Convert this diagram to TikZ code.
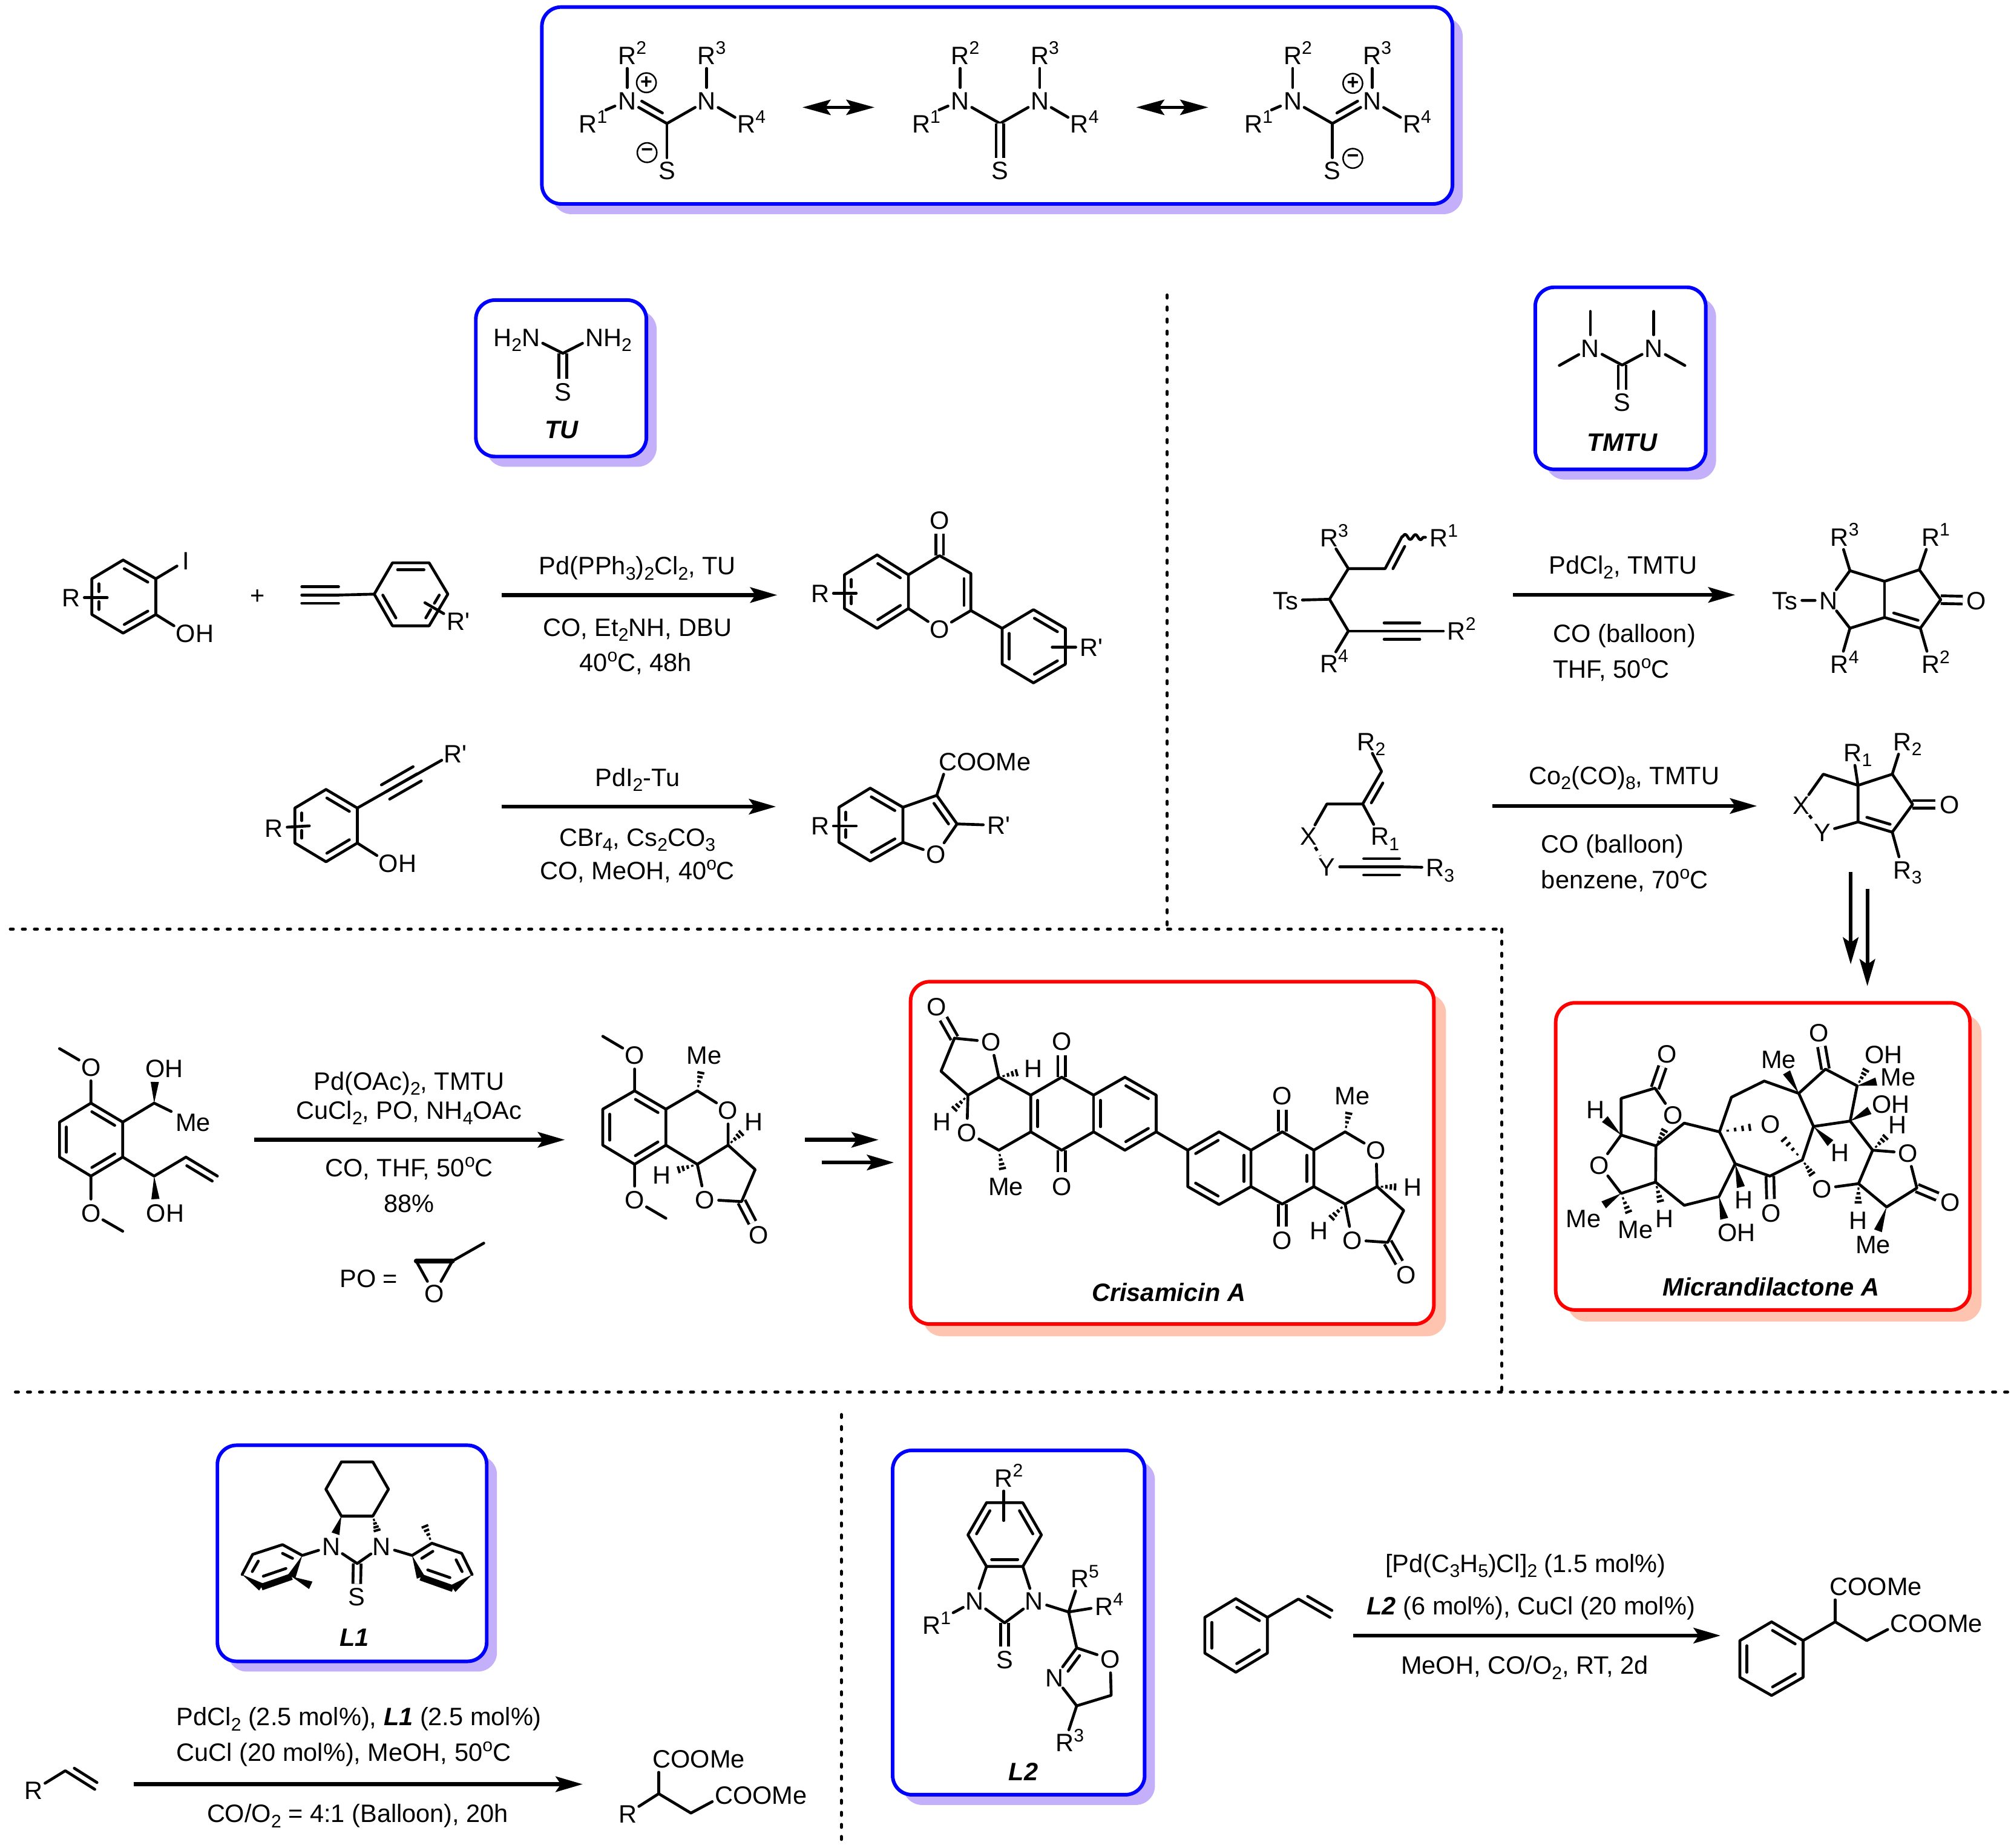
\documentclass[tikz,border=0pt]{standalone}
\usepackage{xcolor}
\usepackage{fontspec}
\setmainfont{Liberation Sans}
\usepackage{tikz}
\usetikzlibrary{calc}
\usetikzlibrary{arrows.meta}
\usetikzlibrary{decorations.pathmorphing}
\definecolor{blueshade}{HTML}{C4B0FA}
\definecolor{redshade}{HTML}{FFC4B0}
\newcommand{\fsz}{\fontsize{9.8}{12}\selectfont}
\newcommand{\sps}[1]{\raisebox{3.8pt}[0pt][0pt]{\fontsize{7.1}{8}\selectfont #1}}
\newcommand{\sbs}[1]{\raisebox{-2pt}[0pt][0pt]{\fontsize{7.1}{8}\selectfont #1}}
\newcommand{\Rs}[1]{R\rlap{\sps{#1}}}
\newcommand{\Rb}[1]{R\rlap{\sbs{#1}}}
\newcommand{\Rp}{R\rlap{\textquotesingle}}
\tikzstyle{atom} = [circle, inner sep=0pt, text height=7.05pt, text depth=0pt, font=\fsz]
\tikzstyle{atomr} = [rectangle, inner sep=1.5pt, text height=7.05pt, text depth=0pt, font=\fsz]
\tikzstyle{txt} = [rectangle, inner sep=0pt, text height=7.05pt, text depth=0pt, font=\fsz]
\tikzstyle{tag} = [txt, font=\fsz\bfseries\itshape]
\tikzstyle{charge} = [circle, draw, line width=.6pt, minimum size=7.6pt, inner sep=0pt, font=\fontsize{8}{8}\selectfont\bfseries]
\tikzstyle{bond} = [line width=1.1pt, line cap=round, line join=round]
\tikzstyle{dbond} = [line width=1.1pt, double, double distance=1.9pt]
\tikzstyle{rxn} = [-{Stealth[length=10.5pt, width=6pt, inset=2pt]}, line width=1.5pt]
\tikzstyle{res} = [{Stealth[length=11pt, width=6pt, inset=2pt]}-{Stealth[length=11pt, width=6pt, inset=2pt]}, line width=1.1pt]
\tikzstyle{sepline} = [line width=1.15pt, line cap=round, dash pattern=on 1.2pt off 3.5pt]
\newcommand{\inrf}[4]{\draw [bond] ($(#1)!#3!(#2)!2.7pt!-90:(#2)$) to ($(#1)!#4!(#2)!2.7pt!-90:(#2)$);}
\newcommand{\inr}[2]{\inrf{#1}{#2}{.14}{.86}}
\newcommand{\trp}[2]{\draw [bond] (#1) to (#2);
  \draw [bond] ($(#1)!3.2pt!90:(#2)$) to ($(#2)!3.2pt!-90:(#1)$);
  \draw [bond] ($(#1)!3.2pt!-90:(#2)$) to ($(#2)!3.2pt!90:(#1)$);}
\newcommand{\wdg}[2]{\path (#1) -- (#2) coordinate [pos=0] (ws) coordinate [pos=1] (we);
  \fill (ws) -- ($(we)!1.6pt!90:(ws)$) -- ($(we)!1.6pt!-90:(ws)$) -- cycle;}
\newcommand{\hsh}[2]{\path (#1) -- (#2) coordinate [pos=0] (ws) coordinate [pos=1] (we);
  \foreach \hf in {.22,.42,.62,.81,1} {\draw [line width=.95pt] ($(ws)!\hf!(we)!\hf*1.7pt!90:(we)$) to ($(ws)!\hf!(we)!\hf*1.7pt!-90:(we)$);}}
\newcommand{\panel}[4][8]{\fill [#2shade, rounded corners=7.5pt, shift={(#1, #1)}] #3 rectangle #4;
  \draw [#2, line width=1.4pt, fill=white, rounded corners=7.5pt] #3 rectangle #4;}
\newcommand{\ureacore}{%
  \node [atom] (n1) at (489, 78.6) {N};
  \node [atom] (n2) at (551, 78.6) {N};
  \coordinate (c) at (520, 96.3);
  \node [atom] (s) at (520, 133) {S};
  \node [atom] (r1) at (458.5, 96.7) {\Rs{1}};
  \node [atom] (r2) at (489, 43) {\Rs{2}};
  \node [atom] (r3) at (551, 43) {\Rs{3}};
  \node [atom] (r4) at (582, 96.7) {\Rs{4}};
  \coordinate (r1b) at (472.5, 85.7);
  \draw [bond] (n1) to (r2);
  \draw [bond] (n2) to (r3);
  \draw [bond] (n1) to (r1b);
  \draw [bond] (n2) to (r4);
  \draw [bond] (n1) to (c);
  \draw [bond] (n2) to (c);}

\begin{document}
\begin{tikzpicture}[x=.5pt, y=-.5pt]
\path [fill=white, use as bounding box] (0, 0) rectangle (1568, 1440.6);

\panel{blue}{(422.5, 5.5)}{(1132.5, 159)}
\panel{blue}{(371, 234)}{(504, 356)}
\panel{blue}{(1197, 224)}{(1330, 366)}
\panel[9.5]{red}{(710, 765.5)}{(1118, 1032.5)}
\panel[9]{red}{(1213, 782)}{(1536, 1021.5)}
\panel{blue}{(169.5, 1127)}{(379.5, 1295.5)}
\panel{blue}{(696, 1131)}{(892.5, 1399.5)}

\draw [sepline] (910, 230) to (910, 722);
\draw [sepline] (8, 724.5) to (1171, 724.5);
\draw [sepline] (1171, 724.5) to (1171, 1085.5);
\draw [sepline] (12, 1085.5) to (1566, 1085.5);
\draw [sepline] (656, 1103) to (656, 1440);

\begin{scope}[name prefix=ra-]
\ureacore
\draw [bond] (c) to (s);
\inrf{c}{n1}{.2}{.72}
\node [charge] (plus) at (504, 64.5) {+};
\node [charge] (minus) at (504.5, 119) {−};
\end{scope}
\begin{scope}[shift={(259.7, 0)}, name prefix=rb-]
\ureacore
\draw [dbond] (c) to (s);
\end{scope}
\begin{scope}[shift={(518.9, 0)}, name prefix=rc-]
\ureacore
\draw [bond] (c) to (s);
\inrf{n2}{c}{.28}{.8}
\node [charge] (plus) at (535.9, 65) {+};
\node [charge] (minus) at (535.9, 123.5) {−};
\end{scope}
\coordinate (rs1) at (625.7, 83.7);
\coordinate (re1) at (681.8, 83.7);
\coordinate (rs2) at (885.9, 83.7);
\coordinate (re2) at (942.1, 83.7);
\draw [res] (rs1) to (re1);
\draw [res] (rs2) to (re2);

\begin{scope}[name prefix=tu-]
\coordinate (c) at (438.9, 275.5);
\node [atom] (n1) at (413.9, 263) {\llap{H\sbs{2}}N};
\node [atom] (n2) at (463.4, 263) {N\rlap{H\sbs{2}}};
\node [atom] (s) at (438.9, 305.5) {S};
\draw [dbond] (c) to (s);
\draw [bond] (n1) to (c) to (n2);
\node [tag] (name) at (438, 335) {TU};
\end{scope}

\begin{scope}[name prefix=tm-]
\coordinate (c) at (1264.8, 284.7);
\node [atom] (n1) at (1240, 271.4) {N};
\node [atom] (n2) at (1289.4, 271.4) {N};
\node [atom] (s) at (1264.8, 313.8) {S};
\coordinate (m1) at (1240, 242.8);
\coordinate (m2) at (1289.4, 242.8);
\coordinate (m3) at (1215.8, 285);
\coordinate (m4) at (1313.7, 285);
\draw [dbond] (c) to (s);
\draw [bond] (n1) to (c) to (n2);
\draw [bond] (n1) to (m1);
\draw [bond] (n2) to (m2);
\draw [bond] (n1) to (m3);
\draw [bond] (n2) to (m4);
\node [tag] (name) at (1264.8, 344.8) {TMTU};
\end{scope}

\begin{scope}[name prefix=ph-]
\coordinate (a) at (96, 436.7);
\coordinate (b) at (121.5, 451.3);
\coordinate (c) at (121.5, 479.2);
\coordinate (d) at (96, 493.7);
\coordinate (e) at (71.6, 479.2);
\coordinate (f) at (71.6, 451.3);
\node [atom] (i) at (144.8, 437.3) {I};
\node [atom] (o) at (144.8, 493.7) {O\rlap{H}};
\node [atom] (r) at (55.4, 466) {R};
\coordinate (rb) at (83.6, 466);
\draw [bond] (a) to (b) to (c) to (d) to (e) to (f) to (a);
\draw [bond] (b) to (i);
\draw [bond] (c) to (o);
\draw [bond] (r) to (rb);
\inr{a}{b}
\inr{c}{d}
\inrf{e}{f}{.14}{.36}
\inrf{e}{f}{.64}{.86}
\end{scope}
\node [txt] (plus) at (201, 464) {+};

\begin{scope}[name prefix=pa-]
\coordinate (t1) at (235.3, 464);
\coordinate (t2) at (264, 464);
\coordinate (a) at (291.8, 463.3);
\coordinate (b) at (306, 438.9);
\coordinate (c) at (334.6, 438.9);
\coordinate (d) at (349.2, 463.3);
\coordinate (e) at (334.6, 488);
\coordinate (f) at (306, 488);
\coordinate (bar1) at (331.3, 470);
\coordinate (bar2) at (346, 478.5);
\node [atom] (r) at (355.5, 484.5) {\Rp};
\trp{t1}{t2}
\draw [bond] (t2) to (a);
\draw [bond] (a) to (b) to (c) to (d) to (e) to (f) to (a);
\draw [bond] (bar1) to (bar2);
\inr{b}{c}
\inrf{d}{e}{.14}{.4}
\inrf{d}{e}{.6}{.86}
\inr{f}{a}
\end{scope}

\coordinate (a1s) at (391, 464);
\coordinate (a1e) at (606, 464);
\draw [rxn] (a1s) to (a1e);
\node [txt] (t1a) at (497, 441) {Pd(PPh\sbs{3})\sbs{2}Cl\sbs{2}, TU};
\node [txt] (t1b) at (497, 489) {CO, Et\sbs{2}NH, DBU};
\node [txt] (t1c) at (495.5, 516.5) {40\sps{o}C, 48h};

\begin{scope}[name prefix=fl-]
\coordinate (a) at (683.9, 432.7);
\coordinate (b) at (708.3, 448.2);
\coordinate (c) at (708.3, 474.5);
\coordinate (d) at (683.9, 490);
\coordinate (e) at (658.4, 474.5);
\coordinate (f) at (658.4, 448.2);
\coordinate (g) at (732.6, 433.3);
\coordinate (h) at (757, 447.2);
\coordinate (i) at (757, 476.1);
\node [atom] (o) at (732.6, 490.6) {O};
\node [atom] (ok) at (732.6, 405.4) {O};
\coordinate (p1) at (781.4, 490);
\coordinate (p2) at (805.8, 475.4);
\coordinate (p3) at (830.7, 490);
\coordinate (p4) at (830.7, 517.9);
\coordinate (p5) at (805.8, 532.5);
\coordinate (p6) at (781.4, 517.9);
\node [atom] (r) at (639.5, 462.7) {R};
\coordinate (rb) at (667.6, 462.7);
\node [atom] (r2) at (849.1, 504.6) {\Rp};
\coordinate (r2b) at (820.4, 504.6);
\draw [dbond] (g) to (ok);
\draw [bond] (a) to (b) to (c) to (d) to (e) to (f) to (a);
\draw [bond] (b) to (g) to (h) to (i) to (o) to (c);
\draw [bond] (i) to (p1) to (p2) to (p3) to (p4) to (p5) to (p6) to (p1);
\draw [bond] (r) to (rb);
\draw [bond] (r2) to (r2b);
\inr{a}{b}
\inr{c}{d}
\inrf{e}{f}{.14}{.36}
\inrf{e}{f}{.64}{.86}
\inr{h}{i}
\inr{p2}{p3}
\inr{p4}{p5}
\inr{p6}{p1}
\end{scope}

\begin{scope}[name prefix=sp-]
\coordinate (a) at (254.2, 615.6);
\coordinate (b) at (278.6, 630.1);
\coordinate (c) at (278.6, 657.4);
\coordinate (d) at (254.2, 672);
\coordinate (e) at (229.9, 657.4);
\coordinate (f) at (229.9, 630.1);
\node [atom] (o) at (303, 672.9) {O\rlap{H}};
\node [atom] (r) at (213.6, 645.6) {R};
\coordinate (rb) at (241.2, 644);
\node [atom] (r2) at (353.4, 587.7) {\Rp};
\coordinate (t1) at (300.6, 617.6);
\coordinate (t2) at (325.3, 603.4);
\trp{t1}{t2}
\draw [bond] (b) to (r2);
\draw [bond] (a) to (b) to (c) to (d) to (e) to (f) to (a);
\draw [bond] (c) to (o);
\draw [bond] (r) to (rb);
\inr{a}{b}
\inr{c}{d}
\inrf{e}{f}{.14}{.36}
\inrf{e}{f}{.64}{.86}
\end{scope}

\coordinate (a2s) at (391, 629);
\coordinate (a2e) at (605, 629);
\draw [rxn] (a2s) to (a2e);
\node [txt] (t2a) at (497, 606) {PdI\sbs{2}-Tu};
\node [txt] (t2b) at (497, 652.7) {CBr\sbs{4}, Cs\sbs{2}CO\sbs{3}};
\node [txt] (t2c) at (497, 679) {CO, MeOH, 40\sps{o}C};

\begin{scope}[name prefix=bf-]
\coordinate (a) at (678.5, 614.6);
\coordinate (b) at (704, 629.5);
\coordinate (c) at (704, 656.8);
\coordinate (d) at (678.5, 671.4);
\coordinate (e) at (654.1, 656.8);
\coordinate (f) at (654.1, 629.5);
\coordinate (g) at (730.4, 620.2);
\coordinate (h) at (746.2, 642.5);
\node [atom] (o) at (730, 666.1) {O};
\node [atom] (cm) at (739, 593.9) {C\rlap{OOMe}};
\node [atom] (r2) at (777, 643.5) {\Rp};
\node [atom] (r) at (639.5, 644.1) {R};
\coordinate (rb) at (667.6, 644.1);
\draw [bond] (a) to (b) to (c) to (d) to (e) to (f) to (a);
\draw [bond] (b) to (g) to (h) to (o) to (c);
\draw [bond] (g) to (cm);
\draw [bond] (h) to (r2);
\draw [bond] (r) to (rb);
\inr{a}{b}
\inr{c}{d}
\inrf{e}{f}{.14}{.36}
\inrf{e}{f}{.64}{.86}
\inr{g}{h}
\end{scope}

\begin{scope}[name prefix=en-]
\node [atom] (r3) at (1036.2, 419.2) {\Rs{3}};
\coordinate (a) at (1051.3, 443.4);
\coordinate (b) at (1080, 443.4);
\coordinate (v) at (1093.1, 418.6);
\node [atom] (r1) at (1121.8, 419.2) {\Rs{1}};
\node [atomr] (ts) at (1002.3, 468.2) {Ts};
\coordinate (c) at (1036.6, 467.3);
\coordinate (d) at (1051.3, 492.1);
\node [atom] (r4) at (1036.2, 517.2) {\Rs{4}};
\node [atom] (r2) at (1135.7, 492.1) {\Rs{2}};
\coordinate (t1) at (1079.2, 492.1);
\coordinate (t2) at (1107, 492.1);
\trp{t1}{t2}
\draw [bond] (r3) to (a) to (b) to (v);
\draw [bond] (ts) to (c);
\draw [bond] (a) to (c) to (d) to (r4);
\draw [bond] (d) to (t1);
\draw [bond] (t2) to (r2);
\draw [bond, decorate, decoration={snake, segment length=4pt, amplitude=1pt}] (v) to (r1);
\inrf{b}{v}{.1}{.8}
\end{scope}

\coordinate (a3s) at (1179.5, 463.9);
\coordinate (a3e) at (1353, 463.9);
\draw [rxn] (a3s) to (a3e);
\node [txt] (t3a) at (1265.5, 440.3) {PdCl\sbs{2}, TMTU};
\node [txt, anchor=west] (t3b) at (1210.6, 494) {CO (balloon)};
\node [txt, anchor=west] (t3c) at (1210.6, 521.8) {THF, 50\sps{o}C};

\begin{scope}[name prefix=pr-]
\node [atom] (n) at (1425.6, 468.2) {N};
\node [atomr] (ts) at (1391.8, 468.2) {Ts};
\coordinate (a) at (1442.4, 445);
\coordinate (j1) at (1469.4, 453.3);
\coordinate (b) at (1496.5, 444.3);
\coordinate (k) at (1513.2, 467.6);
\node [atom] (o) at (1541.1, 468.2) {O};
\coordinate (c) at (1497.3, 489.9);
\coordinate (j2) at (1469.4, 481.5);
\coordinate (d) at (1442.4, 489.9);
\node [atom] (r3) at (1434.4, 418.6) {\Rs{3}};
\node [atom] (r1) at (1505.3, 418.6) {\Rs{1}};
\node [atom] (r4) at (1434.4, 517.8) {\Rs{4}};
\node [atom] (r2) at (1505.3, 517.8) {\Rs{2}};
\draw [dbond] (k) to (o);
\draw [bond] (ts) to (n) to (a) to (j1) to (b) to (k) to (c) to (j2) to (d) to (n);
\draw [bond] (j1) to (j2);
\draw [bond] (a) to (r3);
\draw [bond] (b) to (r1);
\draw [bond] (d) to (r4);
\draw [bond] (c) to (r2);
\inrf{c}{j2}{.12}{.8}
\end{scope}

\begin{scope}[name prefix=pk-]
\node [atom] (r2) at (1065.3, 578.2) {\Rb{2}};
\coordinate (a) at (1077.2, 601.5);
\coordinate (b) at (1062.5, 626.9);
\coordinate (c) at (1034.6, 626.9);
\node [atom] (x) at (1020.3, 652) {X};
\node [atom] (y) at (1034.6, 675.9) {Y};
\node [atom] (r1) at (1076, 652) {\Rb{1}};
\node [atom] (r3) at (1119, 676.5) {\Rb{3}};
\coordinate (t1) at (1063.3, 675.9);
\coordinate (t2) at (1091.2, 675.9);
\trp{t1}{t2}
\draw [bond] (r2) to (a) to (b) to (c) to (x);
\draw [bond] (b) to (r1);
\draw [bond, dash pattern=on 1.6pt off 2.2pt, line cap=butt] (x) to (y);
\draw [bond] (y) to (t1);
\draw [bond] (t2) to (r3);
\inrf{b}{a}{.14}{.75}
\end{scope}

\coordinate (a4s) at (1163.6, 628.5);
\coordinate (a4e) at (1369.9, 628.5);
\draw [rxn] (a4s) to (a4e);
\node [txt] (t4a) at (1266.4, 604.6) {Co\sbs{2}(CO)\sbs{8}, TMTU};
\node [txt, anchor=west] (t4b) at (1201.4, 658.2) {CO (balloon)};
\node [txt, anchor=west] (t4c) at (1201.4, 686.1) {benzene, 70\sps{o}C};

\begin{scope}[name prefix=pp-]
\coordinate (q) at (1448.7, 612.4);
\coordinate (a) at (1421.6, 603.7);
\node [atom] (x) at (1404.5, 627.8) {X};
\node [atom] (y) at (1420.8, 648.9) {Y};
\coordinate (b) at (1448.7, 640.9);
\coordinate (c) at (1475.4, 648.9);
\coordinate (k) at (1491.3, 627.2);
\node [atom] (o) at (1520, 627.2) {O};
\coordinate (d) at (1475.4, 603.7);
\node [atom] (r1) at (1444.7, 586.6) {\Rb{1}};
\node [atom] (r2) at (1483.4, 578.2) {\Rb{2}};
\node [atom] (r3) at (1483.4, 678.1) {\Rb{3}};
\draw [dbond] (k) to (o);
\draw [bond] (x) to (a) to (q) to (d) to (k) to (c) to (b) to (q);
\draw [bond, dash pattern=on 1.6pt off 2.2pt, line cap=butt] (x) to (y);
\draw [bond] (y) to (b);
\draw [bond] (q) to (r1);
\draw [bond] (d) to (r2);
\draw [bond] (c) to (r3);
\inrf{c}{b}{.12}{.8}
\end{scope}

\coordinate (a5s) at (1443, 680);
\coordinate (a5e) at (1443, 752);
\coordinate (a6s) at (1456, 693);
\coordinate (a6e) at (1456, 769);
\draw [rxn] (a5s) to (a5e);
\draw [rxn] (a6s) to (a6e);

\begin{scope}[name prefix=dm-]
\coordinate (a) at (70.9, 860.2);
\coordinate (b) at (95.7, 875);
\coordinate (c) at (95.7, 902.3);
\coordinate (d) at (70.9, 917.1);
\coordinate (e) at (46.4, 902.3);
\coordinate (f) at (46.4, 875);
\node [atom] (o1) at (70.9, 832) {O};
\coordinate (m1) at (46.4, 817.7);
\node [atom] (o2) at (70.9, 945.8) {O};
\coordinate (m2) at (95.7, 960.1);
\coordinate (g) at (120.2, 860.2);
\node [atom] (o3) at (121, 832.9) {O\rlap{H}};
\node [atomr] (me) at (150.5, 875) {Me};
\coordinate (h) at (120.2, 917.1);
\coordinate (v1) at (145, 902.3);
\coordinate (v2) at (169.5, 917.1);
\node [atom] (o4) at (121.8, 945.8) {O\rlap{H}};
\draw [bond] (a) to (b) to (c) to (d) to (e) to (f) to (a);
\draw [bond] (a) to (o1) to (m1);
\draw [bond] (d) to (o2) to (m2);
\draw [bond] (b) to (g) to (me);
\draw [bond] (c) to (h) to (v1) to (v2);
\wdg{g}{o3}
\wdg{h}{o4}
\inr{a}{b}
\inr{c}{d}
\inr{e}{f}
\inrf{v1}{v2}{.14}{.95}
\end{scope}

\coordinate (a7s) at (198.1, 888.8);
\coordinate (a7e) at (440.4, 888.8);
\draw [rxn] (a7s) to (a7e);
\node [txt] (t7a) at (319, 843) {Pd(OAc)\sbs{2}, TMTU};
\node [txt] (t7b) at (319, 865.7) {CuCl\sbs{2}, PO, NH\sbs{4}OAc};
\node [txt] (t7c) at (319, 910.7) {CO, THF, 50\sps{o}C};
\node [txt] (t7d) at (319, 938.2) {88\%};
\node [txt] (po) at (287.5, 997) {PO =};

\begin{scope}[name prefix=ep-]
\coordinate (a) at (324.5, 983.3);
\coordinate (b) at (352.8, 983.3);
\node [atom] (o) at (338.5, 1008.6) {O};
\coordinate (m) at (377.2, 969.4);
\draw [bond, line width=1.8pt] (a) to (b);
\draw [bond] (a) to (o) to (b) to (m);
\end{scope}

\begin{scope}[name prefix=dp-]
\coordinate (a) at (494.8, 850.6);
\coordinate (b) at (519.2, 864.9);
\coordinate (c) at (519.2, 893);
\coordinate (d) at (494.8, 907.9);
\coordinate (e) at (470, 893);
\coordinate (f) at (470, 864.9);
\node [atom] (o1) at (494.8, 822.8) {O};
\coordinate (m1) at (470, 808.1);
\node [atom] (o2) at (494.8, 935.7) {O};
\coordinate (m2) at (519.2, 950);
\coordinate (g) at (543.7, 850.6);
\node [atomr] (me) at (549.1, 822.8) {Me};
\node [atom] (o3) at (567.7, 865.7) {O};
\coordinate (h) at (567.7, 893);
\node [atom] (h1) at (587.9, 874.5) {H};
\coordinate (i) at (543.7, 907.9);
\node [atom] (h2) at (515.9, 916) {H};
\node [atom] (o4) at (549.6, 935.3) {O};
\coordinate (j) at (588.8, 912);
\coordinate (k) at (578.2, 937);
\node [atom] (o5) at (591.7, 963) {O};
\draw [dbond] (k) to (o5);
\draw [bond] (a) to (b) to (c) to (d) to (e) to (f) to (a);
\draw [bond] (a) to (o1) to (m1);
\draw [bond] (d) to (o2) to (m2);
\draw [bond] (b) to (g) to (o3) to (h) to (i) to (c);
\draw [bond] (i) to (o4) to (k) to (j) to (h);
\hsh{g}{me}
\hsh{h}{h1}
\hsh{i}{h2}
\inr{a}{b}
\inr{c}{d}
\inr{e}{f}
\end{scope}

\coordinate (a8s) at (627.5, 888.8);
\coordinate (a8e) at (685, 888.8);
\coordinate (a9s) at (640.6, 906.5);
\coordinate (a9e) at (697, 906.5);
\draw [rxn] (a8s) to (a8e);
\draw [rxn] (a9s) to (a9e);

\begin{scope}[name prefix=cr-]
\node [atom] (o1) at (730.3, 785) {O};
\coordinate (c1) at (744.2, 809.6);
\node [atom] (o2) at (772.7, 812.4) {O};
\coordinate (c2) at (778.8, 840);
\node [atom] (h1) at (805.9, 833.1) {H};
\coordinate (a) at (803.7, 854);
\coordinate (b) at (827.8, 840);
\node [atom] (o3) at (827.8, 812) {O};
\coordinate (cc) at (852.7, 854);
\coordinate (g) at (877.1, 840);
\coordinate (gh) at (901.5, 854);
\coordinate (i) at (901.5, 882.6);
\coordinate (j) at (877.1, 896.9);
\coordinate (dd) at (852.7, 882.6);
\coordinate (e) at (827.8, 896.9);
\node [atom] (o4) at (827.8, 924.9) {O};
\coordinate (f) at (803.7, 882.6);
\coordinate (c3) at (778.8, 896.9);
\node [atomr] (me1) at (784.3, 924.9) {Me};
\node [atom] (o5) at (753.9, 882.9) {O};
\coordinate (c4) at (754.7, 854);
\coordinate (c5) at (733.7, 835.3);
\node [atom] (h2) at (734.5, 874.5) {H};
\coordinate (k) at (926.1, 896.9);
\coordinate (l) at (950.5, 882.6);
\coordinate (m) at (975.4, 896.9);
\coordinate (n) at (975.4, 925.3);
\coordinate (p) at (950.5, 939.3);
\coordinate (q) at (926.1, 925.3);
\coordinate (u1) at (999.8, 882.6);
\node [atom] (o6) at (999.8, 854.4) {O};
\coordinate (t) at (1024.4, 896.9);
\coordinate (c6) at (1048.8, 882.6);
\node [atomr] (me2) at (1054.3, 854.4) {Me};
\node [atom] (o7) at (1072.9, 896.9) {O};
\coordinate (c7) at (1073.7, 925.3);
\node [atom] (h3) at (1101.4, 925.8) {H};
\coordinate (c8) at (1094.5, 943.9);
\coordinate (c9) at (1082, 968.8);
\node [atom] (o8) at (1096.4, 994) {O};
\node [atom] (o9) at (1054.3, 966.9) {O};
\coordinate (c10) at (1048.8, 938.9);
\node [atom] (h4) at (1028.6, 959.4) {H};
\coordinate (u) at (1024.4, 925.3);
\coordinate (v) at (999.8, 938.9);
\node [atom] (o10) at (999.8, 967.3) {O};
\draw [dbond] (c1) to (o1);
\draw [dbond] (b) to (o3);
\draw [dbond] (e) to (o4);
\draw [dbond] (u1) to (o6);
\draw [dbond] (v) to (o10);
\draw [dbond] (c9) to (o8);
\draw [bond] (c1) to (o2) to (c2) to (a) to (b) to (cc) to (g) to (gh) to (i) to (j) to (dd) to (e) to (f) to (a);
\draw [bond] (cc) to (dd);
\draw [bond] (f) to (c3) to (o5) to (c4) to (c2);
\draw [bond] (c4) to (c5) to (c1);
\draw [bond] (i) to (k) to (l) to (m) to (n) to (p) to (q) to (k);
\draw [bond] (m) to (u1) to (t) to (u) to (v) to (n);
\draw [bond] (t) to (c6) to (o7) to (c7) to (c10) to (u);
\draw [bond] (c7) to (c8) to (c9) to (o9) to (c10);
\hsh{c2}{h1}
\hsh{c4}{h2}
\hsh{c3}{me1}
\hsh{c6}{me2}
\hsh{c7}{h3}
\hsh{c10}{h4}
\inr{f}{a}
\inr{dd}{cc}
\inr{g}{gh}
\inr{i}{j}
\inr{k}{l}
\inr{p}{q}
\inr{m}{n}
\inr{t}{u}
\node [tag] (name) at (911.2, 1007.6) {Crisamicin A};
\end{scope}

\begin{scope}[name prefix=mi-]
\node [atom] (o1) at (1299.8, 821.6) {O};
\coordinate (a1) at (1290.4, 848.5);
\coordinate (a2) at (1264, 856.5);
\coordinate (a3) at (1264, 885.1);
\node [atom] (h1) at (1243.9, 865.4) {H};
\node [atom] (o2) at (1304.5, 869.4) {O};
\coordinate (a4) at (1291.1, 893.5);
\coordinate (a5) at (1313.2, 875.8);
\coordinate (a6) at (1340.7, 882.6);
\coordinate (a7) at (1350, 855.6);
\coordinate (a8) at (1375.6, 843);
\coordinate (a9) at (1402.5, 852.6);
\node [atomr] (me1) at (1386.9, 825.8) {Me};
\coordinate (a10) at (1423.3, 833.7);
\node [atom] (o3) at (1418.3, 805.4) {O};
\coordinate (a11) at (1448, 846.7);
\node [atom] (o4) at (1461.6, 822.3) {O\rlap{H}};
\node [atomr] (me2) at (1480, 839.6) {Me};
\coordinate (a12) at (1442.6, 874.2);
\node [atom] (o5) at (1467.1, 860.7) {O\rlap{H}};
\coordinate (a13) at (1414, 878.4);
\node [atom] (h2) at (1434.6, 898.6) {H};
\coordinate (a14) at (1405.3, 904.5);
\node [atom] (o6) at (1380.4, 876.7) {O};
\coordinate (a15) at (1380, 917.1);
\node [atom] (o7) at (1380.8, 945.8) {O};
\coordinate (a16) at (1352.9, 907.5);
\node [atom] (h3) at (1359.8, 935.7) {H};
\coordinate (a17) at (1340.3, 933.1);
\node [atom] (o8) at (1346.8, 960.9) {O\rlap{H}};
\coordinate (a18) at (1313.2, 939.9);
\coordinate (a19) at (1290.9, 921.8);
\node [atom] (h4) at (1298, 950) {H};
\coordinate (a20) at (1264, 930.6);
\node [atom] (o9) at (1247.1, 908.4) {O};
\node [atomr] (me3) at (1234.5, 950) {Me};
\node [atomr] (me4) at (1275.3, 958.7) {Me};
\node [atom] (o10) at (1420.5, 926.9) {O};
\coordinate (a21) at (1449.1, 923);
\node [atom] (h5) at (1448.6, 951.3) {H};
\coordinate (a22) at (1460.1, 896.9);
\node [atom] (h6) at (1479.6, 877) {H};
\node [atom] (o11) at (1487.6, 899.1) {O};
\coordinate (a23) at (1494.6, 926.4);
\node [atom] (o12) at (1520.6, 937.3) {O};
\coordinate (a24) at (1471, 941.2);
\node [atomr] (me5) at (1460.5, 970.2) {Me};
\draw [dbond] (a1) to (o1);
\draw [dbond] (a10) to (o3);
\draw [dbond] (a15) to (o7);
\draw [dbond] (a23) to (o12);
\draw [bond] (a3) to (a2) to (a1) to (o2);
\draw [bond] (a3) to (a4) to (a5) to (a6) to (a7) to (a8) to (a9) to (a13) to (a14) to (a15) to (a16) to (a6);
\draw [bond] (a9) to (a10) to (a11) to (a12) to (a13);
\draw [bond] (a12) to (a22) to (o11) to (a23) to (a24) to (a21) to (a22);
\draw [bond] (a21) to (o10);
\draw [bond] (a4) to (a19) to (a18) to (a17) to (a16);
\draw [bond] (a3) to (o9) to (a20) to (a19);
\wdg{a3}{h1}
\hsh{a4}{o2}
\wdg{a9}{me1}
\hsh{a11}{o4}
\wdg{a11}{me2}
\wdg{a12}{o5}
\wdg{a13}{h2}
\hsh{a6}{o6}
\hsh{a14}{o6}
\wdg{a16}{h3}
\wdg{a17}{o8}
\hsh{a19}{h4}
\wdg{a20}{me3}
\hsh{a20}{me4}
\hsh{a14}{o10}
\hsh{a21}{h5}
\hsh{a22}{h6}
\wdg{a24}{me5}
\node [tag] (name) at (1380.8, 1003.4) {Micrandilactone A};
\end{scope}

\begin{scope}[name prefix=l1-]
\coordinate (a) at (266.2, 1140);
\coordinate (b) at (290.7, 1140);
\coordinate (cc) at (302.9, 1161.3);
\coordinate (dd) at (290.7, 1182.2);
\coordinate (e) at (266.2, 1182.2);
\coordinate (f) at (254.1, 1161.3);
\node [atom] (n1) at (258.3, 1205.8) {N};
\node [atom] (n2) at (297.7, 1205.8) {N};
\coordinate (c) at (278.5, 1219.2);
\node [atom] (s) at (278, 1245.1) {S};
\coordinate (p1) at (235.7, 1212.9);
\coordinate (p2) at (220.3, 1204.5);
\coordinate (p3) at (197, 1212.1);
\coordinate (p4) at (188.8, 1227.8);
\coordinate (p5) at (203.8, 1237.6);
\coordinate (p6) at (227.4, 1229.4);
\coordinate (pm) at (242.3, 1236.2);
\coordinate (q1) at (321.3, 1212.9);
\coordinate (q2) at (336.7, 1203.4);
\coordinate (q3) at (360, 1211.3);
\coordinate (q4) at (368.1, 1227.8);
\coordinate (q5) at (353.2, 1238.8);
\coordinate (q6) at (328, 1229.9);
\coordinate (qm) at (330.1, 1187.2);
\coordinate (i1) at (220.3, 1211.3);
\coordinate (i2) at (228.1, 1215.2);
\coordinate (i3) at (201.4, 1217.3);
\coordinate (i4) at (196.7, 1225.5);
\coordinate (i5) at (205.3, 1229.1);
\coordinate (i6) at (222.9, 1223.1);
\coordinate (j1) at (328.8, 1215.2);
\coordinate (j2) at (337.5, 1209.7);
\coordinate (j3) at (355.6, 1216.3);
\coordinate (j4) at (360.3, 1225.5);
\coordinate (j5) at (333.5, 1224.2);
\coordinate (j6) at (350.8, 1230.2);
\draw [dbond] (c) to (s);
\draw [bond] (a) to (b) to (cc) to (dd) to (e) to (f) to (a);
\draw [bond] (n1) to (c) to (n2);
\draw [bond] (n1) to (p1) to (p2) to (p3) to (p4);
\draw [bond] (n2) to (q1) to (q2) to (q3) to (q4);
\draw [bond, line width=2.6pt, line cap=butt] (p5) to (p6);
\draw [bond, line width=2.6pt, line cap=butt] (q5) to (q6);
\wdg{e}{n1}
\hsh{dd}{n2}
\wdg{p1}{p6}
\wdg{p4}{p5}
\wdg{p6}{pm}
\wdg{q1}{q6}
\wdg{q4}{q5}
\hsh{q2}{qm}
\draw [bond] (i1) to (i2);
\draw [bond] (i3) to (i4);
\draw [bond] (i5) to (i6);
\draw [bond] (j1) to (j2);
\draw [bond] (j3) to (j4);
\draw [bond] (j5) to (j6);
\node [tag] (name) at (276.4, 1276.6) {L1};
\end{scope}

\begin{scope}[name prefix=l2-]
\coordinate (a) at (769.2, 1171.8);
\coordinate (b) at (797.5, 1171.8);
\coordinate (cc) at (812, 1196.9);
\coordinate (dd) at (797.5, 1221.5);
\coordinate (e) at (769.2, 1221.5);
\coordinate (f) at (754.7, 1196.9);
\node [atom] (r2) at (782.6, 1152.3) {\Rs{2}};
\coordinate (rb) at (782.6, 1185.7);
\node [atom] (n1) at (760.1, 1248.5) {N};
\node [atom] (n2) at (806.2, 1248.5) {N};
\coordinate (c) at (783.3, 1265.5);
\node [atom] (s) at (783.3, 1294) {S};
\node [atom] (r1) at (726.4, 1267.3) {\Rs{1}};
\coordinate (r1b) at (743.2, 1257.6);
\coordinate (g) at (833.2, 1257);
\node [atom] (r5) at (841.9, 1230.8) {\Rs{5}};
\node [atom] (r4) at (860.9, 1252.5) {\Rs{4}};
\coordinate (h) at (839.5, 1285);
\node [atom] (o) at (865.6, 1293.7) {O};
\node [atom] (n3) at (822.4, 1308.1) {N};
\coordinate (i) at (839.5, 1330.2);
\coordinate (j) at (866.4, 1322);
\node [atom] (r3) at (830.2, 1358.7) {\Rs{3}};
\draw [dbond] (c) to (s);
\draw [bond] (a) to (b) to (cc) to (dd) to (e) to (f) to (a);
\draw [bond] (r2) to (rb);
\draw [bond] (e) to (n1) to (c) to (n2) to (dd);
\draw [bond] (n1) to (r1b);
\draw [bond] (n2) to (g) to (r5);
\draw [bond] (g) to (r4);
\draw [bond] (g) to (h) to (o) to (j) to (i) to (n3) to (h);
\draw [bond] (i) to (r3);
\inrf{b}{cc}{.14}{.86}
\inr{dd}{e}
\inr{f}{a}
\inrf{n3}{h}{.35}{.88}
\node [tag] (name) at (798, 1381.6) {L2};
\end{scope}

\begin{scope}[name prefix=sa-]
\node [atom] (r) at (26.3, 1396) {R};
\coordinate (a) at (50.9, 1380.8);
\coordinate (b) at (73.9, 1395.3);
\draw [bond] (r) to (a) to (b);
\inrf{b}{a}{.05}{.82}
\end{scope}

\coordinate (a10s) at (104.2, 1391.3);
\coordinate (a10e) at (454.3, 1391.3);
\draw [rxn] (a10s) to (a10e);
\node [txt, anchor=west] (t10a) at (137.3, 1338.6) {PdCl\sbs{2} (2.5 mol\%), {\bfseries\itshape L1} (2.5 mol\%)};
\node [txt, anchor=west] (t10b) at (137.3, 1366.2) {CuCl (20 mol\%), MeOH, 50\sps{o}C};
\node [txt] (t10c) at (278.9, 1414.1) {CO/O\sbs{2} = 4:1 (Balloon), 20h};

\begin{scope}[name prefix=ss-]
\node [atom] (r) at (489.4, 1414.2) {R};
\coordinate (a) at (513.6, 1398.7);
\coordinate (b) at (538.7, 1413.8);
\node [atom] (c1) at (516, 1371.7) {C\rlap{OOMe}};
\node [atom] (c2) at (564.5, 1400) {C\rlap{OOMe}};
\draw [bond] (r) to (a) to (b) to (c2);
\draw [bond] (a) to (a |- c1.south);
\end{scope}

\begin{scope}[name prefix=st-]
\coordinate (a) at (963.6, 1246.6);
\coordinate (b) at (988.2, 1261.2);
\coordinate (c) at (988.2, 1289.1);
\coordinate (d) at (963.6, 1304);
\coordinate (e) at (939.4, 1289.1);
\coordinate (f) at (939.4, 1261.2);
\coordinate (g) at (1012.4, 1246.9);
\coordinate (h) at (1037, 1261.2);
\draw [bond] (a) to (b) to (c) to (d) to (e) to (f) to (a);
\draw [bond] (b) to (g) to (h);
\inr{a}{b}
\inr{c}{d}
\inr{e}{f}
\inrf{h}{g}{.05}{.82}
\end{scope}

\coordinate (a11s) at (1055, 1275.4);
\coordinate (a11e) at (1341.5, 1275.4);
\draw [rxn] (a11s) to (a11e);
\node [txt] (t11a) at (1189.6, 1219) {[Pd(C\sbs{3}H\sbs{5})Cl]\sbs{2} (1.5 mol\%)};
\node [txt] (t11b) at (1193.7, 1252) {{\bfseries\itshape L2} (6 mol\%), CuCl (20 mol\%)};
\node [txt] (t11c) at (1188.8, 1298.5) {MeOH, CO/O\sbs{2}, RT, 2d};

\begin{scope}[name prefix=sb-]
\coordinate (a) at (1381.3, 1264.7);
\coordinate (b) at (1405.9, 1279.3);
\coordinate (c) at (1405.9, 1308);
\coordinate (d) at (1381.3, 1322.1);
\coordinate (e) at (1356.6, 1308);
\coordinate (f) at (1356.6, 1279.3);
\coordinate (g) at (1430.9, 1264.7);
\coordinate (h) at (1455.5, 1279.3);
\node [atom] (c1) at (1433.8, 1237.2) {C\rlap{OOMe}};
\node [atom] (c2) at (1481, 1265.8) {C\rlap{OOMe}};
\draw [bond] (a) to (b) to (c) to (d) to (e) to (f) to (a);
\draw [bond] (b) to (g) to (h) to (c2);
\draw [bond] (g) to (g |- c1.south);
\inr{a}{b}
\inr{c}{d}
\inr{e}{f}
\end{scope}
\end{tikzpicture}
\end{document}
